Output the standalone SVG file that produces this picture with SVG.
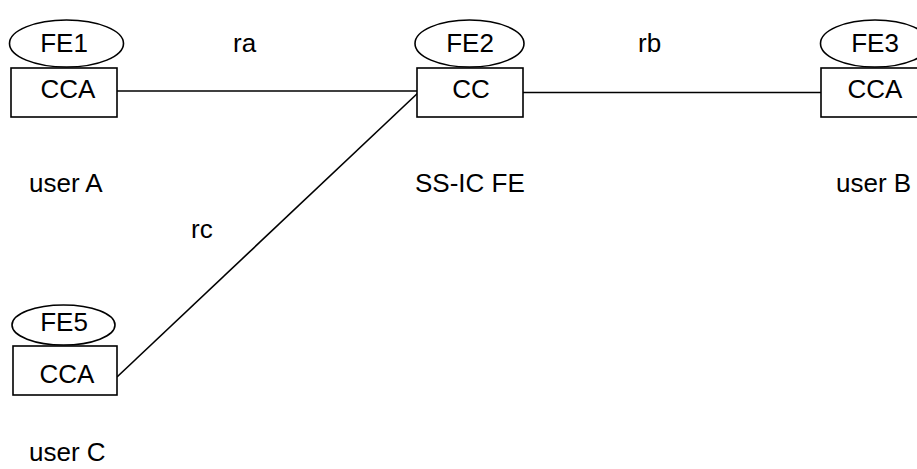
<svg xmlns="http://www.w3.org/2000/svg" width="917" height="469" viewBox="0 0 917 469">
<style>
.sh{fill:#fff;stroke:#000;stroke-width:1.6}
.ln{stroke:#000;stroke-width:1.6;fill:none}
text{font-family:"Liberation Sans",Arial,sans-serif;font-size:26px;fill:#000}
.c{text-anchor:middle}
</style>
<rect width="917" height="469" fill="#fff"/>
<g id="connectors">
<line class="ln" x1="117" y1="91" x2="420" y2="91"/>
<line class="ln" x1="523" y1="92.5" x2="821" y2="92.5"/>
<line class="ln" x1="117" y1="377" x2="420" y2="91"/>
</g>
<g id="fe1">
<ellipse class="sh" cx="66.5" cy="43.5" rx="57" ry="23.5"/>
<text class="c" x="64" y="52">FE1</text>
<rect class="sh" x="11" y="68" width="106" height="49"/>
<text class="c" x="68" y="98">CCA</text>
</g>
<g id="fe2">
<ellipse class="sh" cx="469.5" cy="43.5" rx="54.5" ry="23.5"/>
<text class="c" x="470" y="52">FE2</text>
<rect class="sh" x="417" y="68" width="106" height="49"/>
<text class="c" x="471" y="98">CC</text>
</g>
<g id="fe3">
<ellipse class="sh" cx="875" cy="43.5" rx="54.5" ry="23.5"/>
<text class="c" x="875" y="52">FE3</text>
<rect class="sh" x="821" y="68" width="106" height="49"/>
<text class="c" x="875" y="98">CCA</text>
</g>
<g id="fe5">
<ellipse class="sh" cx="63.5" cy="325" rx="51.5" ry="20"/>
<text class="c" x="64" y="331">FE5</text>
<rect class="sh" x="13" y="346" width="104" height="49"/>
<text class="c" x="67" y="383">CCA</text>
</g>
<g id="labels">
<text x="29" y="192">user A</text>
<text x="415" y="192">SS-IC FE</text>
<text x="836" y="192">user B</text>
<text x="29" y="461">user C</text>
<text x="191" y="238">rc</text>
<text x="233" y="52">ra</text>
<text x="638" y="52">rb</text>
</g>
</svg>
